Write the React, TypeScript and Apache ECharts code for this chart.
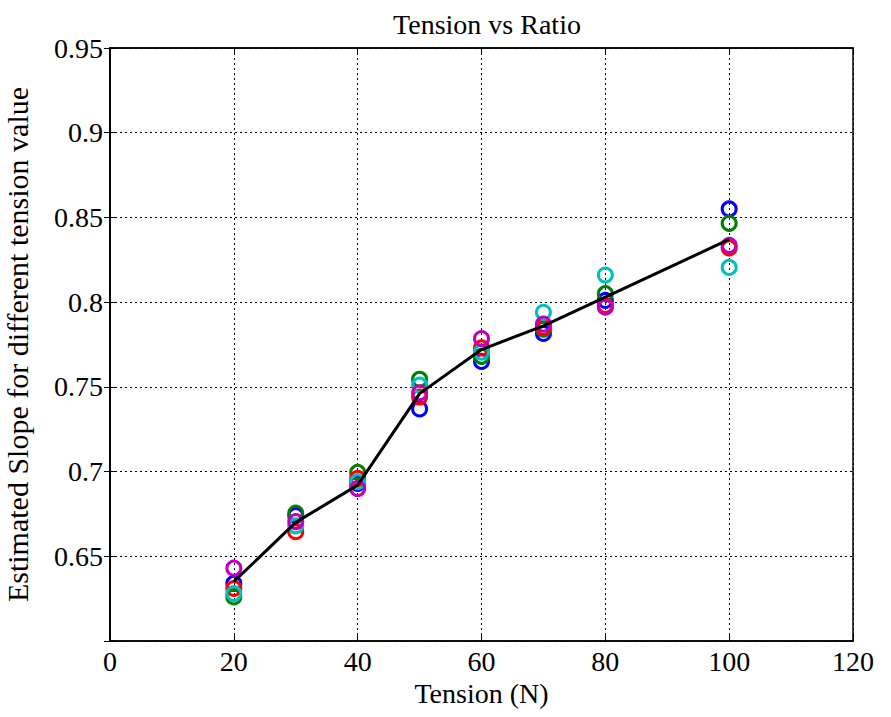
import React, { useEffect, useRef } from "react";
import * as echarts from "echarts";

const tensions = [20, 30, 40, 50, 60, 70, 80, 100];
const blueVals = [0.634, 0.674, 0.693, 0.737, 0.765, 0.7815, 0.801, 0.855];
const greenVals = [0.626, 0.6755, 0.6995, 0.7545, 0.768, 0.784, 0.805, 0.8465];
const redVals = [0.631, 0.6645, 0.696, 0.744, 0.773, 0.785, 0.798, 0.832];
const cyanVals = [0.628, 0.668, 0.694, 0.751, 0.7705, 0.794, 0.816, 0.8205];
const magentaVals = [0.643, 0.6705, 0.690, 0.7465, 0.7785, 0.787, 0.797, 0.8335];
const meanVals = [0.635, 0.670, 0.692, 0.746, 0.772, 0.786, 0.803, 0.837];

const FONT = "Liberation Serif";
const FS = 28;

export default function App() {
  const ref = useRef<HTMLDivElement>(null);
  useEffect(() => {
    if (!ref.current) return;
    const chart = echarts.init(ref.current, null, { renderer: "svg" });
    const scatter = (name: string, vals: number[], color: string) => ({
      name,
      type: "scatter",
      data: tensions.map((t, i) => [t, vals[i]]),
      symbol: "circle",
      symbolSize: 14,
      itemStyle: { color: "rgba(0,0,0,0)", borderColor: color, borderWidth: 3, opacity: 1 },
      z: 3,
    });
    const axisCommon = {
      axisLine: { show: true, lineStyle: { color: "#000", width: 1.5 } },
      axisTick: { show: true, inside: true, length: 6, lineStyle: { color: "#000" } },
      splitLine: { show: true, lineStyle: { color: "#000", type: [2, 3], width: 1 } },
    };
    chart.setOption({
      animation: false,
      backgroundColor: "#fff",
      title: {
        text: "Tension vs Ratio",
        left: 482,
        top: 5,
        textAlign: "center",
        textStyle: { fontFamily: FONT, fontSize: FS, fontWeight: "normal", color: "#000" },
      },
      grid: {
        left: 110,
        right: 38,
        top: 48,
        bottom: 76,
        containLabel: false,
        outerBoundsMode: "none",
        show: true,
        borderColor: "#000",
        borderWidth: 1.5,
        backgroundColor: "#fff",
      },
      xAxis: [
        {
          type: "value",
          min: 0,
          max: 120,
          interval: 20,
          name: "Tension (N)",
          nameLocation: "middle",
          nameGap: 38,
          nameTextStyle: { fontFamily: FONT, fontSize: FS, color: "#000" },
          axisLabel: { fontFamily: FONT, fontSize: FS, color: "#000", margin: 6 },
          ...axisCommon,
        },
        {
          type: "value",
          position: "top",
          min: 0,
          max: 120,
          interval: 20,
          axisLabel: { show: false },
          axisLine: { show: true, lineStyle: { color: "#000", width: 1.5 } },
          axisTick: { show: true, inside: true, length: 6, lineStyle: { color: "#000" } },
          splitLine: { show: false },
        },
      ],
      yAxis: [
        {
          type: "value",
          min: 0.6,
          max: 0.95,
          interval: 0.05,
          name: "Estimated Slope for different tension value",
          nameLocation: "middle",
          nameGap: 78,
          nameTextStyle: { fontFamily: FONT, fontSize: 30, color: "#000" },
          axisLabel: {
            fontFamily: FONT,
            fontSize: FS,
            color: "#000",
            margin: 7,
            formatter: (v: number) => (Math.abs(v - 0.6) < 1e-9 ? "" : String(parseFloat(v.toFixed(2)))),
          },
          ...axisCommon,
        },
        {
          type: "value",
          position: "right",
          min: 0.6,
          max: 0.95,
          interval: 0.05,
          axisLabel: { show: false },
          axisLine: { show: true, lineStyle: { color: "#000", width: 1.5 } },
          axisTick: { show: true, inside: true, length: 6, lineStyle: { color: "#000" } },
          splitLine: { show: false },
        },
      ],
      series: [
        scatter("b", blueVals, "#0000FF"),
        scatter("g", greenVals, "#008000"),
        scatter("r", redVals, "#FF0000"),
        scatter("c", cyanVals, "#00BFBF"),
        scatter("m", magentaVals, "#BF00BF"),
        {
          name: "mean",
          type: "line",
          data: tensions.map((t, i) => [t, meanVals[i]]),
          showSymbol: false,
          symbol: "none",
          lineStyle: { color: "#000", width: 3 },
          z: 4,
        },
      ],
    });
    return () => chart.dispose();
  }, []);
  return <div ref={ref} style={{ width: 891, height: 717, position: "absolute", left: 0, top: 0 }} />;
}
